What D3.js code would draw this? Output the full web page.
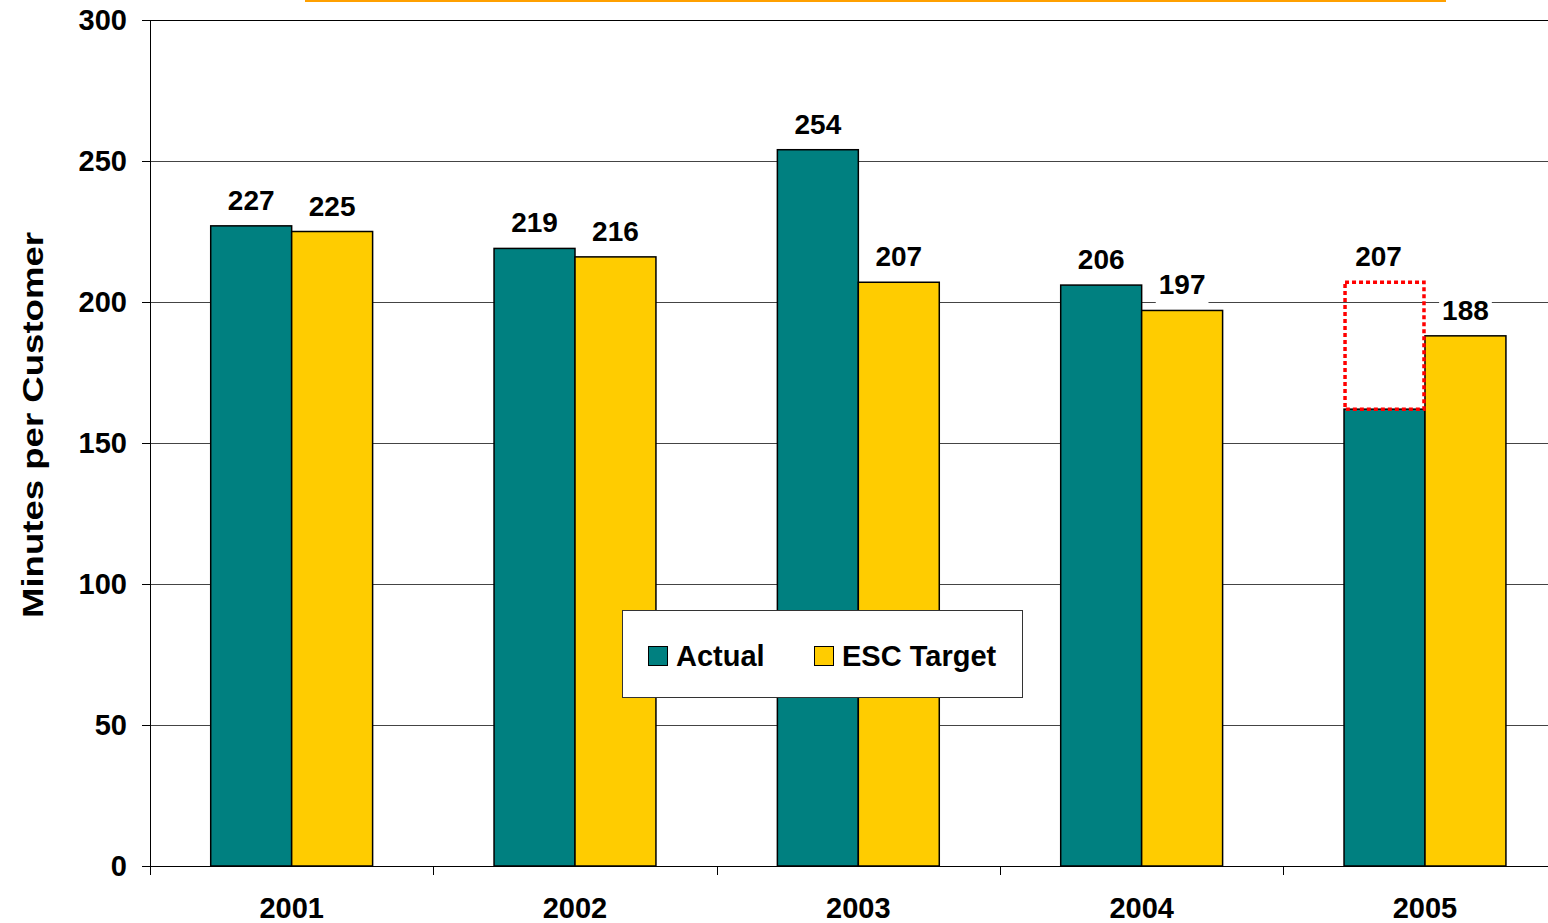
<!DOCTYPE html>
<html>
<head>
<meta charset="utf-8">
<script src="https://cdn.jsdelivr.net/npm/d3@7"></script>
<style>
  html, body { margin: 0; padding: 0; background: #fff; }
  svg { display: block; }
  text { font-family: "Liberation Sans", Arial, Helvetica, sans-serif; font-weight: bold; fill: #000; }
</style>
</head>
<body>
<svg id="chart" width="1548" height="923"></svg>
<script>
// ---- data ----
const years = ["2001", "2002", "2003", "2004", "2005"];
const seriesNames = ["Actual", "ESC Target"];
const actual = [227, 219, 254, 206, 162];
const escTarget = [225, 216, 207, 197, 188];
const projected = [null, null, null, null, 207];
const yTicks = [0, 50, 100, 150, 200, 250, 300];
const yTitle = "Minutes per Customer";

// ---- layout ----
const W = 1548, H = 923;
const mLeft = 150, mTop = 20, mBottom = 866;
const plotRight = 150 + 5 * 283.33;
const colors = { "Actual": "#008080", "ESC Target": "#FFCC00" };
const fontSize = 29;

const svg = d3.select("#chart");

const x0 = d3.scaleBand().domain(years).range([mLeft, plotRight]).padding(0);
const x1 = d3.scaleBand().domain(seriesNames).range([0, x0.bandwidth()]).paddingInner(0).paddingOuter(0.75);
const y = d3.scaleLinear().domain([0, 300]).range([mBottom, mTop]);

// orange line at top (remnant of title box)
svg.append("rect").attr("x", 305).attr("y", 0).attr("width", 1141).attr("height", 2).attr("fill", "#FFA000");

// gridlines
svg.append("g").selectAll("line").data(yTicks.filter(d => d > 0)).join("line")
  .attr("x1", mLeft).attr("x2", W)
  .attr("y1", d => Math.round(y(d)) + 0.5).attr("y2", d => Math.round(y(d)) + 0.5)
  .attr("stroke", d => d === 300 ? "#000" : "#444").attr("stroke-width", 1);

// bars
const data = years.map((yr, i) => ({ year: yr, i, values: [
  { key: "Actual", value: actual[i], label: projected[i] != null ? projected[i] : actual[i], labelTop: projected[i] != null ? projected[i] : actual[i] },
  { key: "ESC Target", value: escTarget[i], label: escTarget[i], labelTop: escTarget[i] }
]}));

const groups = svg.append("g").selectAll("g").data(data).join("g")
  .attr("transform", d => `translate(${x0(d.year)},0)`);

groups.selectAll("rect.bar").data(d => d.values).join("rect")
  .attr("class", "bar")
  .attr("x", d => x1(d.key))
  .attr("y", d => y(d.value))
  .attr("width", x1.bandwidth())
  .attr("height", d => y(0) - y(d.value))
  .attr("fill", d => colors[d.key])
  .attr("stroke", "#000").attr("stroke-width", 1.5);

// projected dotted box
groups.filter(d => projected[d.i] != null).append("rect")
  .attr("x", x1("Actual") + 1)
  .attr("y", d => y(projected[d.i]))
  .attr("width", x1.bandwidth() - 2)
  .attr("height", d => y(actual[d.i]) - y(projected[d.i]))
  .attr("fill", "none")
  .attr("stroke", "#FF0000").attr("stroke-width", 3.5).attr("stroke-dasharray", "4,3");

// axes
svg.append("line").attr("x1", mLeft + 0.5).attr("x2", mLeft + 0.5).attr("y1", mTop).attr("y2", mBottom).attr("stroke", "#000");
svg.append("line").attr("x1", mLeft - 8).attr("x2", W).attr("y1", mBottom + 0.5).attr("y2", mBottom + 0.5).attr("stroke", "#000");
svg.append("g").selectAll("line").data(yTicks).join("line")
  .attr("x1", mLeft - 8).attr("x2", mLeft)
  .attr("y1", d => Math.round(y(d)) + 0.5).attr("y2", d => Math.round(y(d)) + 0.5)
  .attr("stroke", "#000");
svg.append("g").selectAll("line").data(d3.range(years.length + 1)).join("line")
  .attr("x1", i => Math.round(mLeft + i * x0.step()) + 0.5).attr("x2", i => Math.round(mLeft + i * x0.step()) + 0.5)
  .attr("y1", mBottom).attr("y2", mBottom + 9)
  .attr("stroke", "#000");

// y tick labels
svg.append("g").selectAll("text").data(yTicks).join("text")
  .attr("x", 127).attr("y", d => y(d))
  .attr("dy", "0.36em")
  .attr("text-anchor", "end")
  .style("font-size", fontSize + "px")
  .text(d => d);

// x labels
svg.append("g").selectAll("text").data(years).join("text")
  .attr("x", d => x0(d) + x0.bandwidth() / 2)
  .attr("y", 918)
  .attr("text-anchor", "middle")
  .style("font-size", fontSize + "px")
  .text(d => d);

// y title
svg.append("text")
  .attr("transform", "translate(43,425) rotate(-90)")
  .attr("text-anchor", "middle")
  .attr("textLength", 386).attr("lengthAdjust", "spacingAndGlyphs")
  .style("font-size", "30px")
  .text(yTitle);

// data labels with white background
const labelG = groups.selectAll("g.lbl").data(d => d.values).join("g").attr("class", "lbl");
labelG.each(function(d) {
  const g = d3.select(this);
  const cx = x1(d.key) + x1.bandwidth() / 2 - (d.labelTop !== d.value ? 6 : 0);
  const by = y(d.labelTop) - 16;
  const t = g.append("text")
    .attr("x", cx).attr("y", by)
    .attr("text-anchor", "middle")
    .style("font-size", "28px")
    .text(d.label);
  const bb = t.node().getBBox();
  g.insert("rect", "text")
    .attr("x", bb.x - 3).attr("y", bb.y - 2)
    .attr("width", bb.width + 6).attr("height", bb.height + 6)
    .attr("fill", "#fff");
});

// legend
const lg = svg.append("g");
lg.append("rect").attr("x", 622.5).attr("y", 610.5).attr("width", 400).attr("height", 87)
  .attr("fill", "#fff").attr("stroke", "#333").attr("stroke-width", 1);
const legX = [648, 814];
const textX = [676, 842];
seriesNames.forEach((s, i) => {
  lg.append("rect").attr("x", legX[i] + 0.5).attr("y", 646.5).attr("width", 19).attr("height", 19)
    .attr("fill", colors[s]).attr("stroke", "#000").attr("stroke-width", 1);
  lg.append("text").attr("x", textX[i]).attr("y", 666)
    .style("font-size", fontSize + "px").text(s);
});
</script>
</body>
</html>
